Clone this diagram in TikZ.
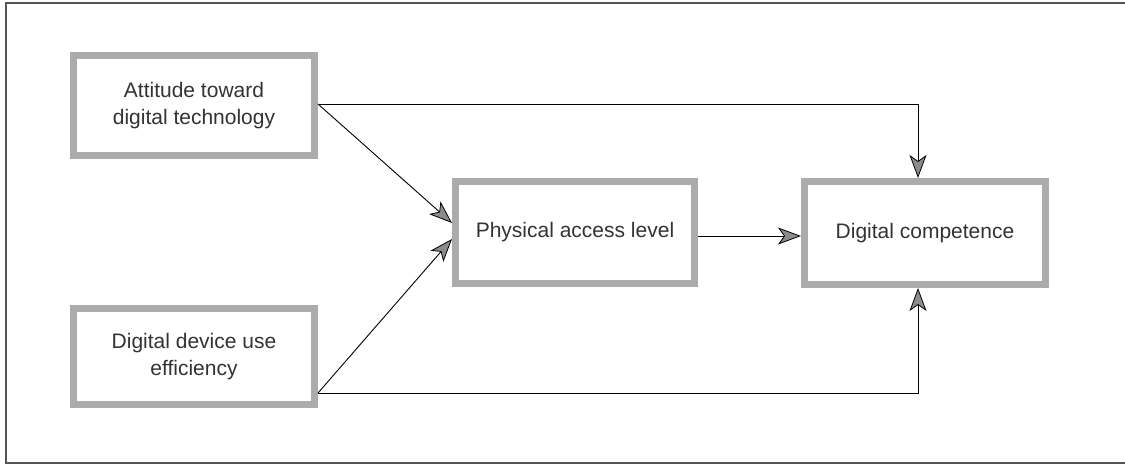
\documentclass[tikz,border=0pt]{standalone}
\usepackage{fontspec}
\setmainfont{Liberation Sans}
\usetikzlibrary{arrows.meta}
\definecolor{boxgray}{HTML}{ABABAB}
\definecolor{headgray}{HTML}{8C8C8C}
\definecolor{framegray}{HTML}{555555}
\begin{document}
\begin{tikzpicture}[x=1pt,y=-1pt,
  box/.style={draw=boxgray, line width=7pt, fill=white, align=center,
    font=\fontsize{21}{27}\selectfont, text=black!80, inner sep=0pt},
  conn/.style={draw=black, line width=0.9pt,
    -{Stealth[length=23pt,width=17pt,inset=6pt,fill=headgray,line width=0.8pt]}}]
\useasboundingbox (0,0) rectangle (1125,464);
\draw[framegray, line width=1.6pt] (1125,3) -- (6,3) -- (6,463) -- (1125,463);
\node[box, minimum width=241pt, minimum height=100pt] (att) at (194,105.5) {Attitude toward\\digital technology};
\node[box, minimum width=241pt, minimum height=96pt] (dev) at (194,356.5) {Digital device use\\efficiency};
\node[box, minimum width=239pt, minimum height=102pt] (phy) at (575,232.5) {Physical access level};
\node[box, minimum width=241pt, minimum height=103pt] (dig) at (925,233) {Digital competence};
\coordinate (topc) at (918,104);
\coordinate (botc) at (918,393);
\draw[conn] (att.east |- topc) -- (topc) -- (topc |- dig.north);
\draw[conn] (dev.east |- botc) -- (botc) -- (botc |- dig.south);
\draw[conn] (att.east |- topc) -- (phy.west |- 0,223);
\draw[conn] (dev.east |- botc) -- (phy.west |- 0,239);
\draw[conn] (phy.east |- 0,236) -- (dig.west |- 0,236);
\end{tikzpicture}
\end{document}
